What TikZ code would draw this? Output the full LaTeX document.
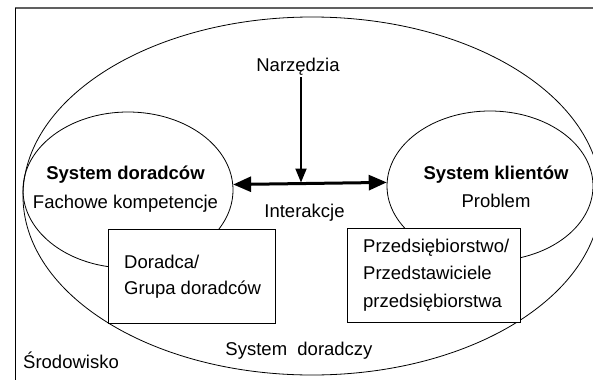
\documentclass[tikz,border=0pt]{standalone}
\usepackage{fontspec}
\setmainfont{Liberation Sans}
\usetikzlibrary{shapes.geometric,arrows.meta}
\tikzset{
  lbl/.style={inner sep=0pt, font=\fontsize{18.5}{21}\selectfont},
  bold/.style={font=\fontsize{18.5}{21}\selectfont\bfseries},
  oval/.style={ellipse, draw=black, line width=0.8pt, inner sep=0pt},
  boxnode/.style={rectangle, draw=black, line width=0.8pt, fill=white, inner sep=0pt},
  bigarrow/.style={line width=3pt, {Triangle[length=18pt 0,width=15pt 0]}-{Triangle[length=18pt 0,width=15pt 0]}},
  downarrow/.style={line width=2pt, -{Triangle[length=14pt 0,width=11pt 0]}}
}
\begin{document}
\begin{tikzpicture}[x=1pt,y=-1pt]
\useasboundingbox (0,0) rectangle (593,380);
% frame
\draw[line width=1.6pt, gray!75!black] (15,8) -- (593,8);
\draw[line width=0.9pt, black] (15,8) -- (15,380);
% ellipses
\node[oval, minimum width=578pt, minimum height=358pt] (system) at (312,196) {};
\node[oval, minimum width=210pt, minimum height=156pt] (doradcy) at (128,190) {};
\node[oval, minimum width=206pt, minimum height=150pt] (klienci) at (490,186) {};
% boxes
\node[boxnode, minimum width=167pt, minimum height=94pt] (lbox) at (191.5,276) {};
\node[boxnode, minimum width=173pt, minimum height=94pt] (rbox) at (433.5,275) {};
% texts
\node[lbl, bold, anchor=base] (t1) at (125.5,179) {System doradców};
\node[lbl, anchor=base] (t2) at (125.5,208) {Fachowe kompetencje};
\node[lbl, bold, anchor=base] (t3) at (496,179) {System klientów};
\node[lbl, anchor=base] (t4) at (496,207) {Problem};
\node[lbl, anchor=base west] (t5) at (124,268) {Doradca/};
\node[lbl, anchor=base west] (t6) at (124,294) {Grupa doradców};
\node[lbl, anchor=base west] (t7) at (363,252) {Przedsiębiorstwo/};
\node[lbl, anchor=base west] (t8) at (363,279) {Przedstawiciele};
\node[lbl, anchor=base west] (t9) at (363,307) {przedsiębiorstwa};
\node[lbl, anchor=base, inner sep=2pt] (narz) at (298,71) {Narzędzia};
\node[lbl, anchor=base] (inter) at (304.5,217) {Interakcje};
\node[lbl, anchor=base] (sysd) at (299,355) {System\ \ doradczy};
\node[lbl, anchor=base west] (srod) at (23,368) {Środowisko};
% arrows
\coordinate (hit) at (301,182.5);
\draw[bigarrow] (doradcy.3.3) -- (klienci.178.9);
\draw[downarrow] (narz.south -| hit) -- (hit);
\end{tikzpicture}
\end{document}
